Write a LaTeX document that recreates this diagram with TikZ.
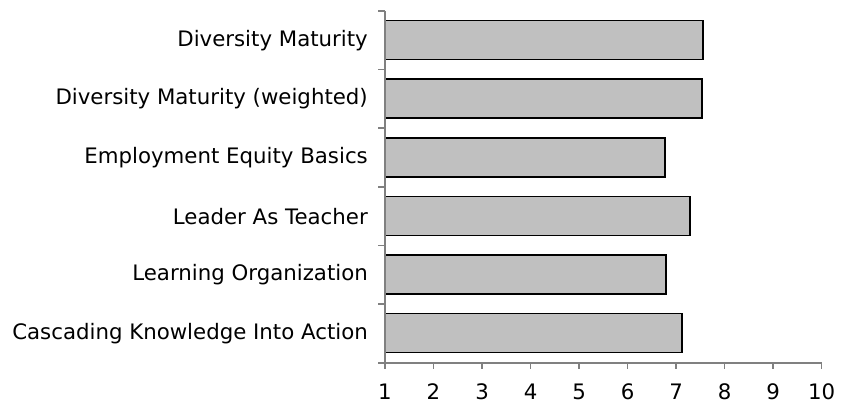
\documentclass[tikz,border=0pt]{standalone}
\usepackage{fontspec}
\setmainfont{DejaVu Sans}
\definecolor{barfill}{HTML}{C0C0C0}
\definecolor{axisgray}{HTML}{808080}
\begin{document}
\begin{tikzpicture}[x=1pt,y=-1pt,
  bar/.style={draw=black,line width=1.6pt,fill=barfill},
  axisline/.style={draw=axisgray,line width=1.6pt},
  catlabel/.style={anchor=east,font=\fontsize{21.3}{25}\selectfont,inner sep=0pt},
  ticklabel/.style={anchor=center,font=\fontsize{21.3}{25}\selectfont,inner sep=0pt}]
\useasboundingbox (0,0) rectangle (844,405);
% geometry: x0=385 at value 1, 48.52 px per unit; categories 58.62 px tall starting at 11
\def\xz{385}\def\ux{48.52}\def\ytop{11}\def\ch{58.62}
% bars
\foreach \v [count=\i from 0] in {7.56,7.53,6.77,7.29,6.79,7.12}{
  \pgfmathsetmacro\ya{\ytop+\i*\ch+9.5}
  \pgfmathsetmacro\yb{\ya+39}
  \pgfmathsetmacro\xe{\xz+(\v-1)*\ux}
  \draw[bar] (\xz,\ya) rectangle (\xe,\yb);
}
% category labels
\foreach \t [count=\i from 0] in {Diversity Maturity,Diversity Maturity (weighted),Employment Equity Basics,Leader As Teacher,Learning Organization,Cascading Knowledge Into Action}{
  \pgfmathsetmacro\yc{\ytop+(\i+0.5)*\ch}
  \node[catlabel] (c\i) at (368,\yc) {\t};
}
% axes
\coordinate (ytopc) at (\xz,\ytop);
\coordinate (orig) at (\xz,362.7);
\coordinate (xend) at (821.7,362.7);
\draw[axisline] (ytopc) -- (orig);
\draw[axisline] (orig) -- (xend);
% y ticks
\foreach \i in {0,...,6}{
  \pgfmathsetmacro\yc{\ytop+\i*\ch}
  \draw[axisline] (\xz,\yc) -- (378,\yc);
}
% x ticks and labels
\foreach \k in {1,...,10}{
  \pgfmathsetmacro\xc{\xz+(\k-1)*\ux}
  \draw[axisline] (\xc,362.7) -- (\xc,369);
  \node[ticklabel] (t\k) at (\xc,392) {\k};
}
\end{tikzpicture}
\end{document}
